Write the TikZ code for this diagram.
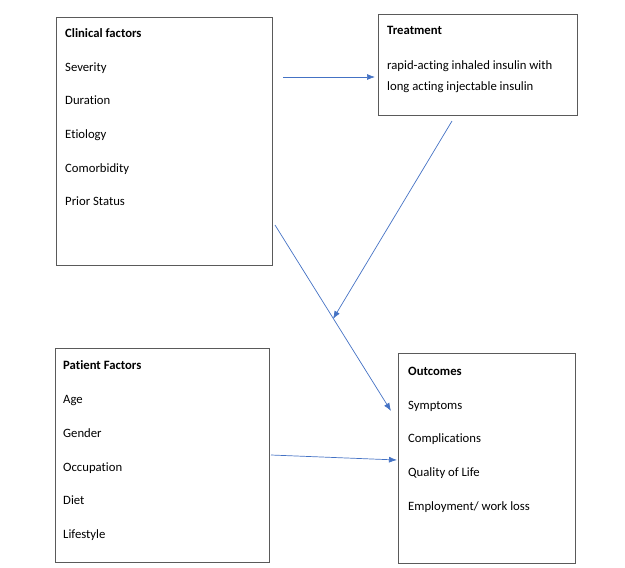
\documentclass[tikz,border=0pt]{standalone}
\usepackage{fontspec}
\setmainfont{Carlito}[Ligatures=NoCommon]
\usetikzlibrary{arrows.meta}
\definecolor{arrowblue}{RGB}{68,114,196}
\definecolor{boxgray}{RGB}{90,90,90}
\tikzset{
  panel/.style={draw=boxgray, line width=1pt, rectangle, inner sep=0pt},
  txt/.style={anchor=base west, inner sep=0pt, font=\fontsize{12.7}{14}\selectfont},
  ttl/.style={txt, font=\fontsize{12.7}{14}\selectfont\bfseries},
  conn/.style={draw=arrowblue, line width=0.7pt, -{Latex[length=8pt,width=6pt]}}
}
\begin{document}
\begin{tikzpicture}[x=1pt,y=-1pt]
\useasboundingbox (0,0) rectangle (625,568);
% boxes
\node[panel, minimum width=216pt, minimum height=248pt] (clin) at (164,141) {};
\node[panel, minimum width=199pt, minimum height=101pt] (treat) at (477.5,64.5) {};
\node[panel, minimum width=214pt, minimum height=214pt] (pat) at (162,455) {};
\node[panel, minimum width=177pt, minimum height=210pt] (out) at (486.5,458) {};
% clinical factors
\node[ttl] (c0) at (65,37) {Clinical factors};
\node[txt] (c1) at (65,71) {Severity};
\node[txt] (c2) at (65,104) {Duration};
\node[txt] (c3) at (65,138) {Etiology};
\node[txt] (c4) at (65,172) {Comorbidity};
\node[txt] (c5) at (65,205) {Prior Status};
% treatment
\node[ttl] (t0) at (387,34) {Treatment};
\node[txt] (t1) at (387,69) {rapid-acting inhaled insulin with};
\node[txt] (t2) at (387,90) {long acting injectable insulin};
% patient factors
\node[ttl] (p0) at (63,369) {Patient Factors};
\node[txt] (p1) at (63,403) {Age};
\node[txt] (p2) at (63,437) {Gender};
\node[txt] (p3) at (63,471) {Occupation};
\node[txt] (p4) at (63,504) {Diet};
\node[txt] (p5) at (63,538) {Lifestyle};
% outcomes
\node[ttl] (o0) at (408,375) {Outcomes};
\node[txt] (o1) at (408,409) {Symptoms};
\node[txt] (o2) at (408,442) {Complications};
\node[txt] (o3) at (408,476) {Quality of Life};
\node[txt] (o4) at (408,510) {Employment/ work loss};
% connector end points
\coordinate (a1s) at (283,77);
\coordinate (a1e) at (375,77);
\coordinate (a2s) at (452,121);
\coordinate (a2e) at (333,319);
\coordinate (a3s) at (275,225);
\coordinate (a3e) at (391,411);
\coordinate (a4s) at (271,455);
\coordinate (a4e) at (397,460);
\draw[conn] (a1s) -- (a1e);
\draw[conn] (a2s) -- (a2e);
\draw[conn] (a3s) -- (a3e);
\draw[conn] (a4s) -- (a4e);
\end{tikzpicture}
\end{document}
